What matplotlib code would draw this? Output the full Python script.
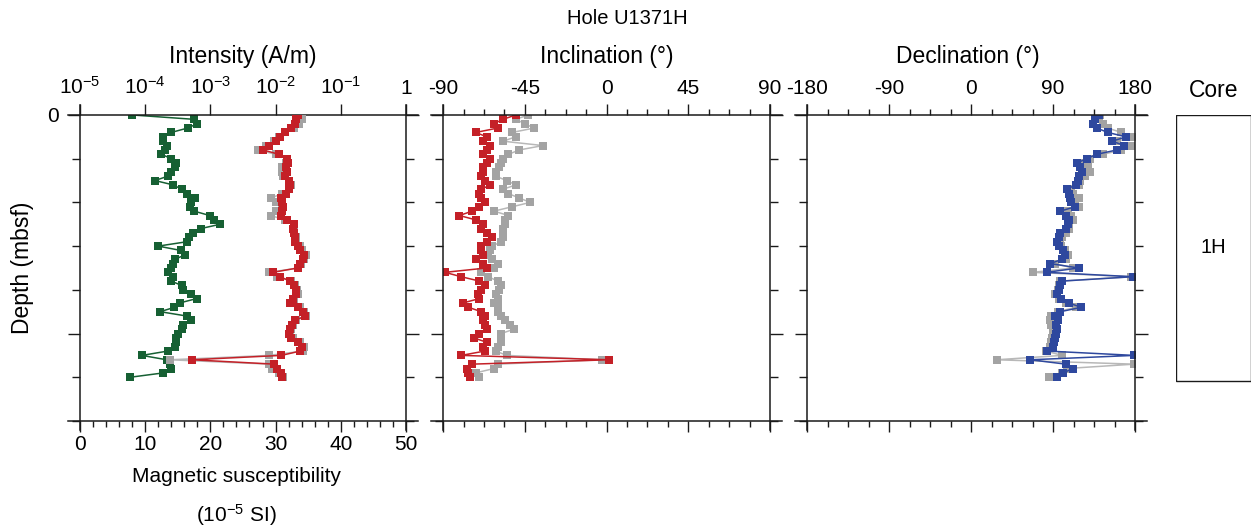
import matplotlib.pyplot as plt
import numpy as np
from matplotlib.ticker import MultipleLocator, FixedLocator, LogLocator, NullFormatter

plt.rcParams["font.family"] = ["Liberation Sans", "DejaVu Sans"]
plt.rcParams["mathtext.fontset"] = "custom"
plt.rcParams["mathtext.rm"] = "Liberation Sans"
plt.rcParams["mathtext.it"] = "Liberation Sans:italic"
plt.rcParams["axes.unicode_minus"] = False

# depth of each measurement (mbsf), 10 cm spacing
depth = np.round(np.arange(0, 6.05, 0.1), 2)

# magnetic susceptibility (10^-5 SI)
susceptibility = [
    8.0, 17.5, 18.0, 16.5, 14.0, 12.8, 12.8, 13.3, 13.0, 12.5,
    14.0, 14.8, 14.6, 14.0, 13.5, 11.5, 14.3, 15.6, 16.4, 17.6,
    17.0, 16.9, 17.5, 19.9, 20.5, 21.5, 18.5, 17.4, 16.8, 16.4,
    12.0, 15.5, 16.1, 14.6, 14.3, 14.0, 13.5, 14.2, 14.0, 15.6,
    15.8, 17.0, 17.9, 15.3, 14.5, 12.3, 16.4, 17.1, 15.8, 15.6,
    15.1, 14.8, 14.7, 14.6, 13.5, 9.5, 13.3, 13.8, 14.0, 12.8,
    7.7,
]

# log10 of intensity (A/m): NRM (gray) and after demagnetization (red)
nrm_log_int = [
    -1.60, -1.60, -1.64, -1.72, -1.85, -1.95, -2.03, -2.15, -2.27, -2.00,
    -1.82, -1.84, -1.90, -1.90, -1.88, -1.79, -1.77, -1.80, -1.90, -2.07,
    -2.00, -1.90, -2.00, -2.07, -1.86, -1.72, -1.72, -1.71, -1.68, -1.68,
    -1.63, -1.60, -1.54, -1.57, -1.61, -1.65, -2.10, -1.98, -1.76, -1.70,
    -1.67, -1.66, -1.72, -1.76, -1.63, -1.56, -1.54, -1.68, -1.73, -1.76,
    -1.78, -1.74, -1.63, -1.56, -1.58, -2.10, -3.62, -2.10, -2.05, -1.95,
    -1.88,
]
demag_log_int = [
    -1.66, -1.68, -1.70, -1.76, -1.85, -1.93, -2.00, -2.10, -2.19, -1.95,
    -1.82, -1.81, -1.84, -1.83, -1.86, -1.80, -1.78, -1.80, -1.84, -1.91,
    -1.90, -1.88, -1.90, -1.91, -1.83, -1.72, -1.73, -1.72, -1.70, -1.70,
    -1.65, -1.62, -1.56, -1.58, -1.63, -1.66, -2.04, -1.93, -1.78, -1.72,
    -1.69, -1.68, -1.74, -1.78, -1.65, -1.58, -1.55, -1.70, -1.75, -1.78,
    -1.80, -1.76, -1.65, -1.59, -1.62, -1.91, -3.28, -2.02, -1.98, -1.92,
    -1.90,
]

# inclination (deg)
nrm_inc = [
    -43, -50, -45, -40, -52, -50, -57, -35, -48, -54,
    -57, -58, -59, -61, -61, -55, -50, -57, -54, -48,
    -42, -52, -62, -54, -56, -56, -57, -57, -57, -58,
    -63, -64, -65, -63, -60, -62, -69, -65, -60, -58,
    -59, -61, -60, -62, -60, -60, -58, -56, -53, -51,
    -58, -58, -58, -60, -61, -55, -2.4, -60, -62, -72,
    -70,
]
demag_inc = [
    -50, -57, -62, -60, -72, -66, -68, -64, -66, -68,
    -64, -66, -68, -68, -69, -67, -64, -69, -70, -69,
    -67, -70, -74, -81, -72, -68, -69, -66, -63, -66,
    -69, -69, -68, -72, -68, -66, -89, -80, -70, -67,
    -69, -71, -70, -79, -76, -69, -67, -68, -67, -66,
    -70, -73, -66, -68, -67, -80, 1.5, -74, -77, -76,
    -75,
]

# declination (deg)
nrm_dec = [
    142, 140, 145, 150, 165, 178, 160, 175, 165, 145,
    130, 120, 128, 130, 125, 120, 118, 110, 112, 118,
    114, 118, 106, 110, 112, 108, 108, 104, 100, 98,
    99, 103, 106, 104, 92, 112, 68, 176, 98, 96,
    95, 92, 96, 104, 115, 95, 88, 87, 88, 90,
    90, 89, 88, 87, 82, 100, 28, 179, 105, 100,
    86,
]
demag_dec = [
    140, 136, 134, 138, 150, 170, 155, 168, 160, 138,
    127, 116, 120, 122, 118, 117, 115, 105, 107, 109,
    110, 114, 98, 104, 108, 106, 104, 98, 96, 94,
    96, 101, 103, 100, 87, 118, 83, 178, 100, 98,
    97, 94, 99, 107, 121, 98, 92, 95, 93, 94,
    93, 92, 91, 90, 83, 179, 65, 104, 112, 101,
    94,
]

core_names = ["1H"]
core_top = [0.0]
core_bottom = [6.08]

GREEN = "#166033"
RED = "#c42027"
BLUE = "#2e489e"
GRAY = "#a3a3a3"
INK = "#1a1a1a"

FS = 15      # tick labels
FT = 16.5    # panel titles


def frame(ax):
    """box with lines running a little past the corners"""
    for spine in ax.spines.values():
        spine.set_visible(False)
    kw = dict(transform=ax.transAxes, color=INK, lw=1.1, clip_on=False, zorder=5)
    ax.plot([-0.037, 1.037], [1, 1], **kw)
    ax.plot([-0.037, 1.037], [0, 0], **kw)
    ax.plot([0, 0], [-0.03, 1.033], **kw)
    ax.plot([1, 1], [-0.03, 1.033], **kw)


def depth_axis(ax, show_labels):
    ax.set_ylim(7, 0)
    ax.yaxis.set_major_locator(FixedLocator([0, 5]))
    ax.yaxis.set_minor_locator(MultipleLocator(1))
    ax.tick_params(axis="y", which="both", left=True, right=True, direction="out",
                   color=INK, width=1.0, labelsize=FS, pad=6)
    ax.tick_params(axis="y", which="major", length=9)
    ax.tick_params(axis="y", which="minor", length=6)
    if show_labels:
        ax.set_yticklabels(["0", ""])
    else:
        ax.tick_params(axis="y", labelleft=False)


def series(ax, x, y, color, line_color, z):
    ax.plot(x, y, color=line_color, lw=1.1, marker="s", ms=6.2,
            mfc=color, mec=color, mew=0, zorder=z)


fig = plt.figure(figsize=(12.53, 5.31), dpi=100)
bottom, height = 0.2072, 0.5763

# ---- intensity / susceptibility ----
ax1 = fig.add_axes([0.0638, bottom, 0.2602, height])
ax1.set_xlim(0, 50)
ax1.xaxis.set_major_locator(MultipleLocator(10))
ax1.xaxis.set_minor_locator(MultipleLocator(2))
ax1.tick_params(axis="x", which="both", direction="out", color=INK, width=1.0,
                labelsize=FS, pad=2)
ax1.tick_params(axis="x", which="major", length=8)
ax1.tick_params(axis="x", which="minor", length=4.5)
depth_axis(ax1, True)
frame(ax1)
series(ax1, susceptibility, depth, GREEN, GREEN, 3)

ax1t = ax1.twiny()
ax1t.set_xscale("log")
ax1t.set_xlim(1e-5, 1)
ax1t.set_ylim(7, 0)
for s in ax1t.spines.values():
    s.set_visible(False)
ax1t.xaxis.set_major_locator(FixedLocator([1e-5, 1e-4, 1e-3, 1e-2, 1e-1, 1]))
ax1t.set_xticklabels([r"$\mathregular{10^{-5}}$", r"$\mathregular{10^{-4}}$",
                      r"$\mathregular{10^{-3}}$", r"$\mathregular{10^{-2}}$",
                      r"$\mathregular{10^{-1}}$", "1"])
ax1t.xaxis.set_minor_locator(LogLocator(base=10, subs=np.arange(2, 10)))
ax1t.xaxis.set_minor_formatter(NullFormatter())
ax1t.tick_params(axis="x", which="both", direction="out", color=INK, width=1.0,
                 labelsize=FS, pad=4)
ax1t.tick_params(axis="x", which="major", length=8)
ax1t.tick_params(axis="x", which="minor", length=4.5)
series(ax1t, 10 ** np.array(nrm_log_int), depth, GRAY, "#b8b8b8", 2)
series(ax1t, 10 ** np.array(demag_log_int), depth, RED, RED, 3)

# ---- inclination ----
ax2 = fig.add_axes([0.3536, bottom, 0.2610, height])
ax2.set_xlim(-90, 90)
ax2.xaxis.set_major_locator(FixedLocator([-90, -45, 0, 45, 90]))
ax2.xaxis.set_minor_locator(MultipleLocator(11.25))
ax2.tick_params(axis="x", which="both", top=True, bottom=True, labeltop=True,
                labelbottom=False, direction="out", color=INK, width=1.0,
                labelsize=FS, pad=4)
ax2.tick_params(axis="x", which="major", length=8)
ax2.tick_params(axis="x", which="minor", length=4.5)
depth_axis(ax2, False)
frame(ax2)
series(ax2, nrm_inc, depth, GRAY, "#b8b8b8", 2)
series(ax2, demag_inc, depth, RED, RED, 3)

# ---- declination ----
ax3 = fig.add_axes([0.6441, bottom, 0.2618, height])
ax3.set_xlim(-180, 180)
ax3.xaxis.set_major_locator(FixedLocator([-180, -90, 0, 90, 180]))
ax3.xaxis.set_minor_locator(MultipleLocator(22.5))
ax3.tick_params(axis="x", which="both", top=True, bottom=True, labeltop=True,
                labelbottom=False, direction="out", color=INK, width=1.0,
                labelsize=FS, pad=4)
ax3.tick_params(axis="x", which="major", length=8)
ax3.tick_params(axis="x", which="minor", length=4.5)
depth_axis(ax3, False)
frame(ax3)
series(ax3, nrm_dec, depth, GRAY, "#b8b8b8", 2)
series(ax3, demag_dec, depth, BLUE, BLUE, 3)

# ---- core column ----
ax4 = fig.add_axes([0.9385, bottom, 0.0599, height])
ax4.set_xlim(0, 1)
ax4.set_ylim(7, 0)
ax4.axis("off")
for name, top, bot in zip(core_names, core_top, core_bottom):
    ax4.bar(0.5, bot - top, bottom=top, width=1.0, fill=False,
            edgecolor=INK, linewidth=1.0)
    ax4.text(0.5, (top + bot) / 2, name, ha="center", va="center", fontsize=14.5)

# ---- titles ----
fig.text(0.5004, 0.966, "Hole U1371H", ha="center", va="center", fontsize=14.5)
fig.text(0.194, 0.893, "Intensity (A/m)", ha="center", va="center", fontsize=FT)
fig.text(0.4844, 0.893, "Inclination (°)", ha="center", va="center", fontsize=FT)
fig.text(0.7725, 0.893, "Declination (°)", ha="center", va="center", fontsize=FT)
fig.text(0.9689, 0.8305, "Core", ha="center", va="center", fontsize=FT)
fig.text(0.189, 0.1017, "Magnetic susceptibility", ha="center", va="center",
         fontsize=15)
fig.text(0.189, 0.030, r"(10$^{\mathregular{-5}}$ SI)", ha="center", va="center",
         fontsize=15)
fig.text(0.0176, 0.4953, "Depth (mbsf)", ha="center", va="center",
         rotation=90, fontsize=FT)

fig.savefig("out.png", dpi=100)
